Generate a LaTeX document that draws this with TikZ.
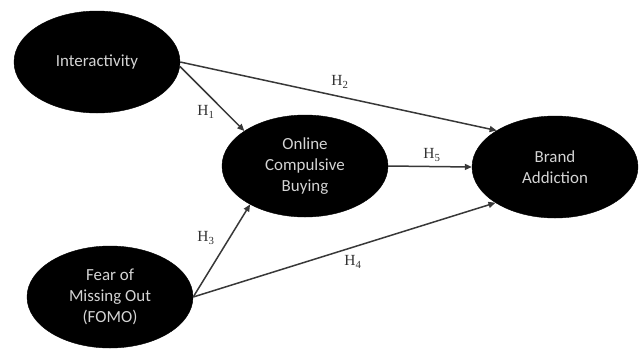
\documentclass[tikz,border=0pt]{standalone}
\usepackage{fontspec}
\setmainfont{Liberation Serif}
\newfontfamily\nodefont{Carlito}
\usetikzlibrary{shapes.geometric,arrows.meta}
\begin{document}
\begin{tikzpicture}[x=1bp,y=-1bp,
  construct/.style={ellipse,fill=black,draw=black,minimum width=166bp,minimum height=102bp,inner sep=0pt,
    text=black!17,align=center,font=\nodefont\fontsize{17}{21}\selectfont},
  link/.style={draw=black!78,line width=1.5bp,-{Triangle[length=7bp,width=6bp]}},
  hyp/.style={font=\fontsize{15.5}{17}\selectfont,text=black!80,inner sep=0pt}]
\useasboundingbox (0,0) rectangle (643,349);
\node[construct] (inter) at (97,62) {Interactivity};
\node[construct] (ocb) at (305,166) {Online\\Compulsive\\Buying};
\node[construct] (brand) at (555,167) {Brand\\Addiction};
\node[construct] (fomo) at (110,297) {Fear of\\Missing Out\\(FOMO)};
\draw[link] (inter.east) -- (brand.148);
\draw[link] (inter.-3) -- (ocb.150);
\draw[link] (ocb.east) -- (brand.west);
\draw[link] (fomo.east) -- (ocb.215);
\draw[link] (fomo.east) -- (brand.211);
\node[hyp] (h1) at (206,112) {H\textsubscript{1}};
\node[hyp] (h2) at (340,82) {H\textsubscript{2}};
\node[hyp] (h5) at (432,155) {H\textsubscript{5}};
\node[hyp] (h3) at (206,238) {H\textsubscript{3}};
\node[hyp] (h4) at (353,262) {H\textsubscript{4}};
\end{tikzpicture}
\end{document}
